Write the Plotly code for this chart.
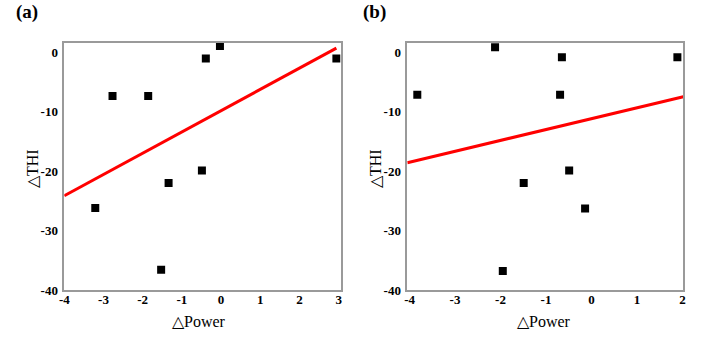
import plotly.graph_objects as go

# Change in power vs change in THI, two conditions
power_a = [-0.03, -0.39, 2.94, -2.77, -1.86, -0.49, -1.34, -3.21, -1.53]
thi_a = [1.0, -1.1, -1.1, -7.4, -7.4, -19.9, -22.0, -26.2, -36.6]

power_b = [-2.12, -0.65, 1.89, -3.83, -0.69, -0.49, -1.49, -0.14, -1.95]
thi_b = [0.8, -0.9, -0.9, -7.2, -7.2, -19.9, -22.0, -26.3, -36.8]

# Fitted trend lines (slope, intercept) and their x extents
fit_a = (3.574, -9.85)
fit_a_x = [-4.0, 2.94]
fit_b = (1.827, -11.2)
fit_b_x = [-4.05, 2.02]

x_ticks_a = [-4, -3, -2, -1, 0, 1, 2, 3]
x_ticks_b = [-4, -3, -2, -1, 0, 1, 2]
y_ticks = [0, -10, -20, -30, -40]

W, H = 704, 337
SERIF = "Liberation Serif, Times New Roman, serif"

fig = go.Figure()

def add_panel(px, py, fit, fit_x, xa, ya):
    fig.add_trace(go.Scatter(
        x=px, y=py, mode="markers", xaxis=xa, yaxis=ya,
        marker=dict(symbol="square", size=8, color="black"),
        showlegend=False, hoverinfo="x+y"))
    m, c = fit
    fig.add_trace(go.Scatter(
        x=fit_x, y=[m * v + c for v in fit_x], mode="lines",
        xaxis=xa, yaxis=ya, line=dict(color="#ff0000", width=3),
        showlegend=False, hoverinfo="skip"))

add_panel(power_a, thi_a, fit_a, fit_a_x, "x", "y")
add_panel(power_b, thi_b, fit_b, fit_b_x, "x2", "y2")


def tick_labels(vals):
    # bold labels with a plain hyphen as the minus sign
    return ["<b>%d</b>" % v for v in vals]


def axis(dom, rng, vals, anchor, standoff):
    return dict(
        domain=dom, range=rng, anchor=anchor,
        tickmode="array", tickvals=vals, ticktext=tick_labels(vals),
        tickfont=dict(family=SERIF, size=13, color="black"),
        showline=True, mirror=True, linecolor="#9a9a9a", linewidth=1.5,
        showgrid=False, zeroline=False, ticks="", ticklabelstandoff=standoff)


y_dom = [(H - 290) / H, (H - 42.5) / H]

fig.update_layout(
    template="none",
    width=W, height=H, margin=dict(l=0, r=0, t=0, b=0),
    paper_bgcolor="white", plot_bgcolor="white",
    xaxis=axis([64.3 / W, 340.7 / W], [-4, 3.05], x_ticks_a, "y", -3),
    yaxis=axis(y_dom, [-40, 1.6], y_ticks, "x", 2),
    xaxis2=axis([407.3 / W, 683.3 / W], [-4.05, 2.02], x_ticks_b, "y2", -3),
    yaxis2=axis(y_dom, [-40, 1.6], y_ticks, "x2", 2),
)


def label(text, x, y, size, bold=False, angle=0):
    fig.add_annotation(
        text="<b>%s</b>" % text if bold else text,
        x=x / W, y=1 - y / H, xref="paper", yref="paper",
        showarrow=False, textangle=angle, xanchor="center", yanchor="middle",
        font=dict(family=SERIF, size=size, color="black"))


label("(a)", 26.5, 12, 19, bold=True)
label("(b)", 374.5, 12, 19, bold=True)
label("△Power", 199, 321, 16)
label("△Power", 544, 321, 16)
label("△THI", 32, 169, 16, angle=-90)
label("△THI", 375, 169, 16, angle=-90)

fig.write_html("out.html")
